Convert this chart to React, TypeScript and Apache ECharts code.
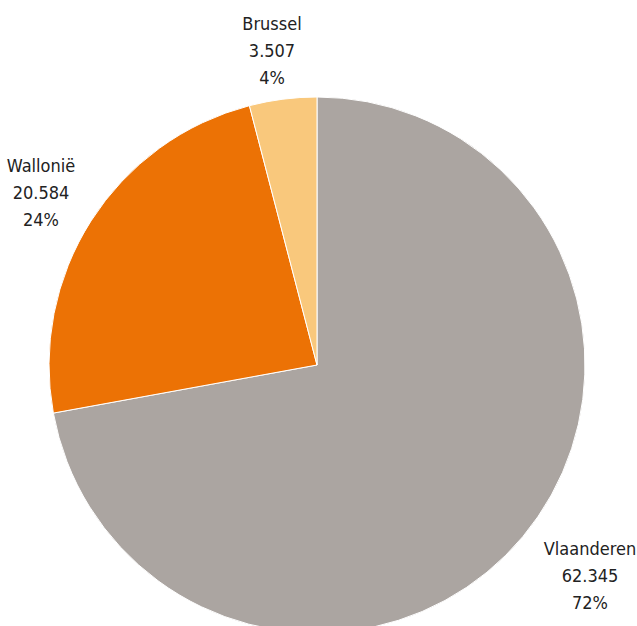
import React, { useEffect, useRef } from "react";
import * as echarts from "echarts";

const regions = ["Vlaanderen", "Wallonië", "Brussel"];
const counts = [62345, 20584, 3507];
const colors = ["#aba5a1", "#ec7205", "#f9c87c"];
const labelSpots = [
  [590, 575],
  [41, 192],
  [272, 50],
];

function fmtNL(v: number): string {
  return String(v).replace(/\B(?=(\d{3})+(?!\d))/g, ".");
}

export default function App() {
  const ref = useRef<HTMLDivElement>(null);
  useEffect(() => {
    if (!ref.current) return;
    const chart = echarts.init(ref.current, undefined, { renderer: "svg" });
    chart.setOption({
      animation: false,
      backgroundColor: "#ffffff",
      series: [
        {
          type: "pie",
          center: [317, 365],
          radius: 268,
          startAngle: 90,
          clockwise: true,
          data: regions.map((n, i) => ({
            name: n,
            value: counts[i],
            itemStyle: { color: colors[i] },
          })),
          itemStyle: { borderColor: "#ffffff", borderWidth: 1 },
          label: {
            show: true,
            position: "outside",
            overflow: "none",
            formatter: (p: any) =>
              `${p.name}\n${fmtNL(p.value)}\n${Math.round(p.percent)}%`,
            fontFamily: "'DejaVu Sans Condensed', 'Liberation Sans Narrow', sans-serif",
            fontSize: 18,
            lineHeight: 27,
            color: "#222222",
            align: "center",
          },
          labelLine: { show: false },
          labelLayout: (params: any) => ({
            x: labelSpots[params.dataIndex][0],
            y: labelSpots[params.dataIndex][1],
            align: "center",
            verticalAlign: "middle",
          }),
          emphasis: { disabled: true },
        },
      ],
    });
    return () => chart.dispose();
  }, []);
  return (
    <div
      ref={ref}
      style={{ position: "absolute", left: 0, top: 0, width: 637, height: 626 }}
    />
  );
}
